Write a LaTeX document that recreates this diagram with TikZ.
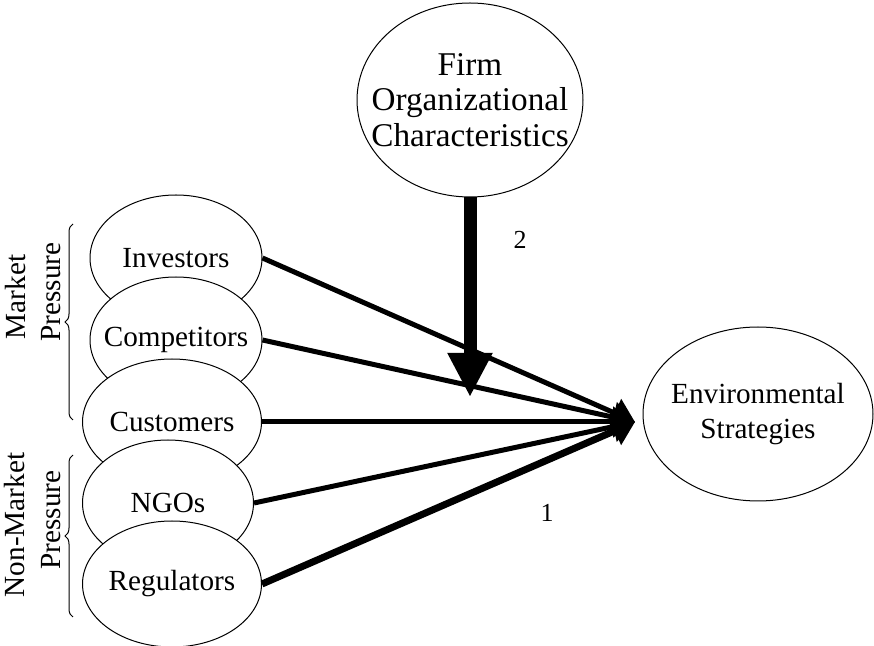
\documentclass[tikz,border=0pt]{standalone}
\usepackage{fontspec}
\setmainfont{Liberation Serif}
\usetikzlibrary{shapes.geometric,arrows.meta,decorations.pathreplacing}

\tikzset{
  oval/.style={ellipse, draw, fill=white, line width=0.5pt, inner xsep=-30pt, inner ysep=-15pt, align=center, font=\fontsize{14.6}{17.5}\selectfont},
  push/.style={line width=2.5pt, -{Triangle[length=11pt,width=15pt]}},
  side/.style={rotate=90, inner sep=0pt, font=\fontsize{14.6}{17.5}\selectfont},
  grp/.style={decorate, decoration={brace, amplitude=4pt}, line width=0.5pt},
  num/.style={font=\fontsize{13}{15}\selectfont},
}

\begin{document}
\begin{tikzpicture}[x=0.5pt,y=-0.5pt]
	\useasboundingbox (0,0) rectangle (874,646);

	% pressures
	\node[oval, minimum width=86pt, minimum height=63pt] (inv) at (176,258) {Investors};
	\node[oval, minimum width=86pt, minimum height=63pt] (comp) at (176,340) {Competitors};
	\node[oval, minimum width=89.5pt, minimum height=63pt] (cust) at (172,422) {Customers};
	\node[oval, minimum width=85.5pt, minimum height=63pt] (ngo) at (168,503) {NGOs};
	\node[oval, minimum width=89.5pt, minimum height=63pt] (reg) at (172,584) {Regulators};

	% firm and outcome
	\node[oval, minimum width=113pt, minimum height=97pt, font=\fontsize{16.6}{17.75}\selectfont] (firm) at (470,100) {Firm\\Organizational\\Characteristics};
	\node[oval, minimum width=115pt, minimum height=87pt] (env) at (758,414) {Environmental\\Strategies};

	% groups
	\draw[grp] (73,420) -- (73,224);
	\draw[grp] (73,617) -- (73,455);
	\node[side] (mk1) at (16,297) {Market};
	\node[side] (mk2) at (51,292) {Pressure};
	\node[side] (nm1) at (15,525) {Non-Market};
	\node[side] (nm2) at (51,520) {Pressure};

	% arrows
	\coordinate (tip) at (635,422);
	\coordinate (ftip) at (470,397);
	\draw[push] (inv.east) -- (tip);
	\draw[push] (comp.east) -- (tip);
	\draw[push] (cust.east) -- (tip);
	\draw[push] (ngo.east) -- (tip);
	\draw[push, line width=3.5pt] (reg.east) -- (tip);
	\draw[line width=6.5pt, -{Triangle[length=22pt,width=21pt]}] (firm.south) -- (ftip);

	\node[num] (one) at (547,513) {1};
	\node[num] (two) at (520,240) {2};
\end{tikzpicture}
\end{document}
